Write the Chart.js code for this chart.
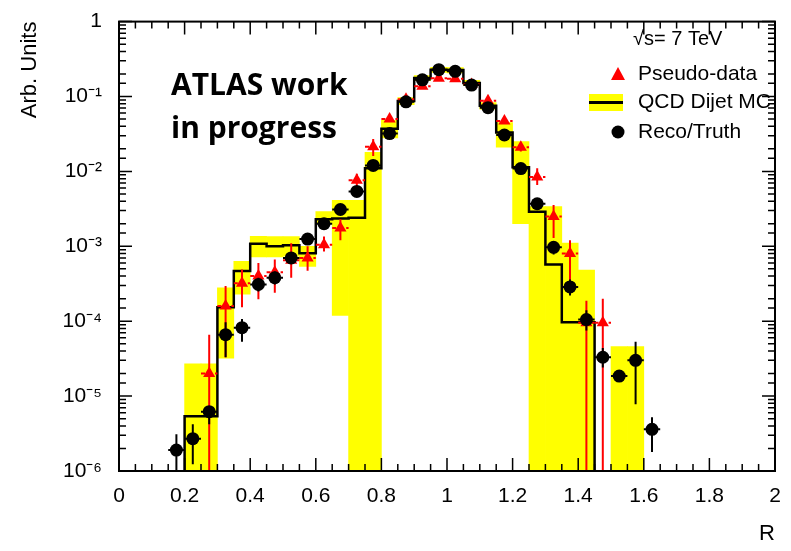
<!DOCTYPE html>
<html>
<head>
<meta charset="utf-8">
<script src="https://cdn.jsdelivr.net/npm/chart.js@4.4.0/dist/chart.umd.min.js"></script>
<style>
  html, body { margin: 0; padding: 0; background: #fff; }
  canvas { display: block; }
</style>
</head>
<body>
<canvas id="chart" width="791" height="551"></canvas>
<script>
const FONT = "'Liberation Sans', Arial, Helvetica, sans-serif";
const FLOOR = 1e-8;      // anything below the axis, gets clipped
const HALF_BIN = 0.025;

// Reco/Truth (black points), bin centres
const recoX = [0.175, 0.225, 0.275, 0.325, 0.375, 0.425, 0.475, 0.525, 0.575, 0.625,
               0.675, 0.725, 0.775, 0.825, 0.875, 0.925, 0.975, 1.025, 1.075, 1.125,
               1.175, 1.225, 1.275, 1.325, 1.375, 1.425, 1.475, 1.525, 1.575, 1.625];
const recoY = [1.9e-6, 2.7e-6, 6.2e-6, 6.6e-5, 8.2e-5, 3.1e-4, 3.8e-4, 7.0e-4, 1.25e-3, 2.0e-3,
               3.1e-3, 5.4e-3, 1.2e-2, 3.2e-2, 8.5e-2, 0.167, 0.228, 0.217, 0.142, 0.071,
               0.0306, 1.09e-2, 3.7e-3, 9.7e-4, 2.87e-4, 1.05e-4, 3.3e-5, 1.85e-5, 3.0e-5, 3.6e-6];
const recoLo = [1.0e-6, 1.23e-6, 4.2e-6, 3.3e-5, 5.3e-5, 2.5e-4, 3.1e-4, 6.0e-4, 1.1e-3, 1.8e-3,
                2.8e-3, 5.0e-3, 1.1e-2, 3.0e-2, 8.0e-2, 0.16, 0.22, 0.21, 0.135, 0.067,
                0.028, 9.8e-3, 3.2e-3, 7.8e-4, 2.2e-4, 7.5e-5, 2.4e-5, 1.6e-5, 7.8e-6, 1.8e-6];
const recoHi = [3.1e-6, 4.2e-6, 7.2e-6, 9.7e-5, 1.07e-4, 3.8e-4, 4.6e-4, 8.0e-4, 1.4e-3, 2.2e-3,
                3.4e-3, 5.8e-3, 1.3e-2, 3.4e-2, 9.0e-2, 0.175, 0.236, 0.225, 0.15, 0.075,
                0.033, 1.2e-2, 4.2e-3, 1.15e-3, 3.6e-4, 1.4e-4, 4.4e-5, 2.1e-5, 5.3e-5, 5.2e-6];

// Pseudo-data (red triangles)
const pseudoX = [0.275, 0.325, 0.375, 0.425, 0.475, 0.525, 0.575, 0.625, 0.675, 0.725,
                 0.775, 0.825, 0.875, 0.925, 0.975, 1.025, 1.075, 1.125, 1.175, 1.225,
                 1.275, 1.325, 1.375, 1.425, 1.475];
const pseudoY = [2.0e-5, 1.6e-4, 3.2e-4, 4.0e-4, 4.5e-4, 6.5e-4, 7.0e-4, 1.05e-3, 1.75e-3, 7.6e-3,
                 2.14e-2, 0.050, 0.092, 0.137, 0.175, 0.173, 0.145, 0.088, 0.047, 0.021,
                 8.4e-3, 2.5e-3, 8.0e-4, 9.5e-5, 9.5e-5];
const pseudoLo = [FLOOR, 3.3e-5, 1.53e-4, 1.97e-4, 2.4e-4, 3.8e-4, 4.7e-4, 8.5e-4, 1.2e-3, 5.6e-3,
                  1.6e-2, 0.046, 0.086, 0.13, 0.167, 0.165, 0.138, 0.083, 0.043, 1.85e-2,
                  6.6e-3, 1.29e-3, 2.96e-4, FLOOR, FLOOR];
const pseudoHi = [6.6e-5, 2.95e-4, 4.9e-4, 6.0e-4, 6.65e-4, 1.1e-3, 1.0e-3, 1.35e-3, 2.3e-3, 9.3e-3,
                  2.7e-2, 0.055, 0.098, 0.145, 0.183, 0.181, 0.152, 0.094, 0.052, 2.4e-2,
                  1.1e-2, 3.55e-3, 1.2e-3, 1.87e-4, 2.0e-4];

// QCD Dijet MC histogram: left bin edges + contents, last right edge
const mcEdges = [0.20, 0.25, 0.30, 0.35, 0.40, 0.45, 0.50, 0.55, 0.60, 0.65,
                 0.70, 0.75, 0.80, 0.85, 0.90, 0.95, 1.00, 1.05, 1.10, 1.15,
                 1.20, 1.25, 1.30, 1.35, 1.40];
const mcValues = [5.4e-6, 5.4e-6, 1.53e-4, 4.67e-4, 1.08e-3, 1.0e-3, 1.03e-3, 8.1e-4, 2.3e-3, 2.35e-3,
                  2.4e-3, 1.1e-2, 0.037, 0.087, 0.177, 0.228, 0.225, 0.152, 0.075, 0.033,
                  0.0114, 2.9e-3, 5.7e-4, 9.7e-5, 9.7e-5];
const mcLastEdge = 1.45;

// MC uncertainty band (yellow), bin centres
const bandX = [0.225, 0.275, 0.325, 0.375, 0.425, 0.475, 0.525, 0.575, 0.625, 0.675,
               0.725, 0.775, 0.825, 0.875, 0.925, 0.975, 1.025, 1.075, 1.125, 1.175,
               1.225, 1.275, 1.325, 1.375, 1.425, 1.525, 1.575];
const bandLo = [FLOOR, FLOOR, 3.2e-5, 2.3e-4, 7.2e-4, 7.2e-4, 7.4e-4, 5.4e-4, 2.0e-3, 1.19e-4,
                FLOOR, FLOOR, 2.8e-2, 7.8e-2, 0.163, 0.21, 0.207, 0.14, 0.068, 2.1e-2,
                2.0e-3, FLOOR, FLOOR, FLOOR, FLOOR, FLOOR, FLOOR];
const bandHi = [2.7e-5, 2.7e-5, 2.8e-4, 6.3e-4, 1.36e-3, 1.35e-3, 1.35e-3, 1.0e-3, 2.9e-3, 4.1e-3,
                4.1e-3, 1.8e-2, 4.8e-2, 9.7e-2, 0.19, 0.245, 0.243, 0.165, 0.083, 4.5e-2,
                2.5e-2, 3.4e-3, 3.4e-3, 1.1e-3, 4.8e-4, 4.6e-5, 4.6e-5];

const SUP = { '-': '\u207B', '0': '\u2070', '1': '\u00B9', '2': '\u00B2', '3': '\u00B3',
              '4': '\u2074', '5': '\u2075', '6': '\u2076', '7': '\u2077', '8': '\u2078', '9': '\u2079' };

function decadeLabel(v) {
  const e = Math.round(Math.log10(v));
  if (Math.abs(Math.log10(v) - e) > 1e-6) return '';
  if (e === 0) return '1';
  return '10' + String(e).split('').map(c => SUP[c]).join('');
}

const mcLine = [{ x: mcEdges[0], y: FLOOR }]
  .concat(mcEdges.map((x, i) => ({ x, y: mcValues[i] })))
  .concat([{ x: mcLastEdge, y: mcValues[mcValues.length - 1] }, { x: mcLastEdge, y: FLOOR }]);

// vertical + horizontal error bars, drawn just under each dataset's markers
const errorBars = {
  id: 'errorBars',
  beforeDatasetDraw(chart, args) {
    const ds = chart.data.datasets[args.index];
    if (!ds.errLo) return;
    const { ctx, chartArea: a, scales: { x, y } } = chart;
    ctx.save();
    ctx.beginPath();
    ctx.rect(a.left, a.top, a.right - a.left, a.bottom - a.top);
    ctx.clip();
    ctx.strokeStyle = ds.backgroundColor;
    ctx.lineWidth = 2;
    ds.data.forEach((p, i) => {
      const px = x.getPixelForValue(p.x);
      const py = y.getPixelForValue(p.y);
      ctx.setLineDash([]);
      ctx.beginPath();
      ctx.moveTo(px, y.getPixelForValue(ds.errLo[i]));
      ctx.lineTo(px, y.getPixelForValue(ds.errHi[i]));
      ctx.stroke();
      ctx.setLineDash(ds.xErrDash);
      ctx.beginPath();
      ctx.moveTo(x.getPixelForValue(p.x - HALF_BIN), py);
      ctx.lineTo(x.getPixelForValue(p.x + HALF_BIN), py);
      ctx.stroke();
    });
    ctx.restore();
  }
};

// ROOT style frame with inward ticks on all four sides
const frame = {
  id: 'frame',
  afterDatasetsDraw(chart) {
    const { ctx, chartArea: a, scales: { x, y } } = chart;
    ctx.save();
    ctx.strokeStyle = '#000';
    ctx.lineWidth = 1.5;
    ctx.beginPath();
    for (let k = 0; k <= 40; k++) {
      const px = x.getPixelForValue(k * 0.05);
      const len = k % 4 === 0 ? 13 : 7;
      ctx.moveTo(px, a.bottom); ctx.lineTo(px, a.bottom - len);
      ctx.moveTo(px, a.top); ctx.lineTo(px, a.top + len);
    }
    y.ticks.forEach(t => {
      const py = y.getPixelForValue(t.value);
      const len = decadeLabel(t.value) ? 13 : 7;
      ctx.moveTo(a.left, py); ctx.lineTo(a.left + len, py);
      ctx.moveTo(a.right, py); ctx.lineTo(a.right - len, py);
    });
    ctx.stroke();
    ctx.lineWidth = 2;
    ctx.strokeRect(a.left, a.top, a.right - a.left, a.bottom - a.top);
    ctx.restore();
  }
};

// legend, energy label and the "ATLAS work in progress" tag
const annotations = {
  id: 'annotations',
  afterDraw(chart) {
    const { ctx } = chart;
    ctx.save();
    ctx.fillStyle = '#000';
    ctx.textBaseline = 'middle';
    ctx.font = '20px ' + FONT;
    ctx.fillText('\u221As= 7 TeV', 633, 39);

    ctx.font = '21px ' + FONT;
    // Pseudo-data
    ctx.fillStyle = '#ff0000';
    ctx.beginPath();
    ctx.moveTo(618, 67); ctx.lineTo(625, 80); ctx.lineTo(611, 80); ctx.closePath();
    ctx.fill();
    ctx.fillStyle = '#000';
    ctx.fillText('Pseudo-data', 638, 74);
    // QCD Dijet MC
    ctx.fillStyle = '#ffff00';
    ctx.fillRect(589, 94, 34, 17);
    ctx.strokeStyle = '#000';
    ctx.lineWidth = 3;
    ctx.beginPath(); ctx.moveTo(589, 102.5); ctx.lineTo(623, 102.5); ctx.stroke();
    ctx.fillStyle = '#000';
    ctx.fillText('QCD Dijet MC', 638, 102);
    // Reco/Truth
    ctx.beginPath(); ctx.arc(618, 132, 6.5, 0, Math.PI * 2); ctx.fill();
    ctx.fillText('Reco/Truth', 638, 132);

    ctx.textBaseline = 'alphabetic';
    ctx.font = 'bold 30px "Open Sans", sans-serif';
    ctx.fillText('ATLAS work', 171, 95);
    ctx.fillText('in progress', 171, 138);
    ctx.restore();
  }
};

new Chart(document.getElementById('chart'), {
  type: 'scatter',
  data: {
    datasets: [
      {
        label: 'Reco/Truth',
        data: recoX.map((x, i) => ({ x, y: recoY[i] })),
        backgroundColor: '#000000',
        borderWidth: 0,
        pointStyle: 'circle',
        pointRadius: 6.5,
        errLo: recoLo, errHi: recoHi, xErrDash: [],
        order: 0
      },
      {
        label: 'Pseudo-data',
        data: pseudoX.map((x, i) => ({ x, y: pseudoY[i] })),
        backgroundColor: '#ff0000',
        borderWidth: 0,
        pointStyle: 'triangle',
        pointRadius: 7,
        errLo: pseudoLo, errHi: pseudoHi, xErrDash: [4, 3],
        order: 1
      },
      {
        type: 'line',
        label: 'QCD Dijet MC',
        data: mcLine,
        borderColor: '#000000',
        borderWidth: 2.5,
        pointRadius: 0,
        stepped: 'before',
        fill: false,
        order: 2
      },
      {
        type: 'bar',
        label: 'MC uncertainty',
        data: bandX.map((x, i) => ({ x, y: [bandLo[i], bandHi[i]] })),
        backgroundColor: '#ffff00',
        borderWidth: 0,
        barPercentage: 1,
        categoryPercentage: 1,
        order: 3
      }
    ]
  },
  options: {
    responsive: false,
    animation: false,
    devicePixelRatio: 1,
    layout: { padding: { top: 16, right: 16, left: 0, bottom: 0 } },
    plugins: { legend: { display: false }, tooltip: { enabled: false } },
    scales: {
      x: {
        type: 'linear',
        min: 0,
        max: 2,
        offset: false,
        grid: { display: false, offset: false },
        border: { display: false },
        ticks: {
          stepSize: 0.2,
          padding: 5,
          color: '#000',
          font: { family: FONT, size: 21 },
          maxRotation: 0,
          callback: v => String(+v.toFixed(1))
        },
        title: {
          display: true,
          text: 'R',
          align: 'end',
          color: '#000',
          font: { family: FONT, size: 22 },
          padding: { top: 0, bottom: 4 }
        },
        afterFit(scale) { scale.height = 80; }
      },
      y: {
        type: 'logarithmic',
        min: 1e-6,
        max: 1,
        grid: { display: false },
        border: { display: false },
        ticks: {
          autoSkip: false,
          padding: 9,
          color: '#000',
          font: { family: FONT, size: 21 },
          callback: v => decadeLabel(v)
        },
        title: {
          display: true,
          text: 'Arb. Units',
          align: 'end',
          color: '#000',
          font: { family: FONT, size: 22 },
          padding: { top: 17, bottom: 0 }
        },
        afterFit(scale) { scale.width = 119; }
      }
    }
  },
  plugins: [errorBars, frame, annotations]
});
</script>
</body>
</html>
